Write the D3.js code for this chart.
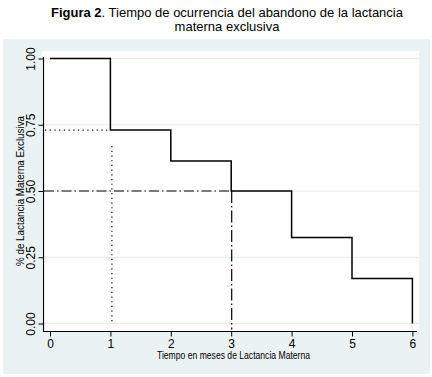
<!DOCTYPE html>
<html>
<head>
<meta charset="utf-8">
<script src="https://cdn.jsdelivr.net/npm/d3@7"></script>
<style>
  body { margin: 0; background: #fff; }
  text { font-family: Arial, "Liberation Sans", sans-serif; fill: #000; }
</style>
</head>
<body>
<svg id="chart" width="432" height="377"></svg>
<script>
// Kaplan-Meier style survival of exclusive breastfeeding
const months = [0, 1, 2, 3, 4, 5, 6];
const survival = [1, 0.73, 0.613, 0.5, 0.325, 0.17, 0];
const xTicks = [0, 1, 2, 3, 4, 5, 6];
const yTicks = [0, 0.25, 0.5, 0.75, 1];
const median = 3;      // month where 50% is reached
const firstDrop = 1;   // first month marker (dotted)
const firstLevel = 0.73;

const svg = d3.select("#chart");

// title
const title = svg.append("text")
  .attr("x", 227).attr("y", 17)
  .attr("text-anchor", "middle")
  .style("font-size", "13px");
title.append("tspan").style("font-weight", "bold").text("Figura 2");
title.append("tspan").text(". Tiempo de ocurrencia del abandono de la lactancia");
svg.append("text")
  .attr("x", 227).attr("y", 31)
  .attr("text-anchor", "middle")
  .style("font-size", "13px")
  .text("materna exclusiva");

// graph region + plot region
svg.append("rect")
  .attr("x", 3).attr("y", 39).attr("width", 427).attr("height", 335)
  .attr("fill", "#eaf2f3");
svg.append("rect")
  .attr("x", 42).attr("y", 51).attr("width", 377).attr("height", 280)
  .attr("fill", "#fff");

const x = d3.scaleLinear().domain([0, 6]).range([50, 412.4]);
const y = d3.scaleLinear().domain([0, 1]).range([323.5, 58.5]);

// grid
svg.append("g")
  .selectAll("line")
  .data(yTicks)
  .join("line")
  .attr("x1", 43).attr("x2", 419)
  .attr("y1", d => y(d)).attr("y2", d => y(d))
  .attr("stroke", "#e3ecee")
  .attr("stroke-width", 1);

// axes
const yAxis = svg.append("g")
  .attr("transform", "translate(43.5,0)")
  .call(d3.axisLeft(y).tickValues(yTicks).tickSize(5).tickSizeOuter(0)
    .tickFormat(d3.format(".2f")));
yAxis.select(".domain").attr("d", "M0,57V332").attr("stroke-width", 1.2);
yAxis.selectAll(".tick text")
  .attr("x", 0).attr("y", 0).attr("dy", 0)
  .attr("text-anchor", "middle")
  .attr("transform", "translate(-9,0) rotate(-90)")
  .style("font-size", "12px")
  .style("font-family", "Arial, 'Liberation Sans', sans-serif");

const xAxis = svg.append("g")
  .attr("transform", "translate(0,331.5)")
  .call(d3.axisBottom(x).tickValues(xTicks).tickSize(5).tickSizeOuter(0)
    .tickFormat(d3.format("d")));
xAxis.select(".domain").attr("d", "M43,0H417").attr("stroke-width", 1.2);
xAxis.selectAll(".tick text")
  .attr("y", 16).attr("dy", 0)
  .style("font-size", "12px")
  .style("font-family", "Arial, 'Liberation Sans', sans-serif");

// axis titles
svg.append("text")
  .attr("transform", `translate(24,${(y(0) + y(1)) / 2}) rotate(-90)`)
  .attr("text-anchor", "middle")
  .attr("textLength", 150).attr("lengthAdjust", "spacingAndGlyphs")
  .style("font-size", "10px")
  .text("% de Lactancia Materna Exclusiva");
svg.append("text")
  .attr("x", 233.5).attr("y", 359)
  .attr("text-anchor", "middle")
  .attr("textLength", 153).attr("lengthAdjust", "spacingAndGlyphs")
  .style("font-size", "10px")
  .text("Tiempo en meses de Lactancia Materna");

// reference lines
const ref = svg.append("g").attr("fill", "none").attr("stroke", "#000");
ref.append("line")
  .attr("x1", 45).attr("x2", x(firstDrop))
  .attr("y1", y(firstLevel)).attr("y2", y(firstLevel))
  .attr("stroke-width", 1.2).attr("stroke-dasharray", "1.2,3.5");
ref.append("line")
  .attr("x1", x(firstDrop) + 1.5).attr("x2", x(firstDrop) + 1.5)
  .attr("y1", y(firstLevel) + 16).attr("y2", y(0))
  .attr("stroke-width", 1.2).attr("stroke-dasharray", "1.2,3.5");
ref.append("line")
  .attr("x1", 44).attr("x2", x(median))
  .attr("y1", y(0.5)).attr("y2", y(0.5))
  .attr("stroke-width", 1.2).attr("stroke-dasharray", "10,3,1.5,3");
ref.append("line")
  .attr("x1", x(median) + 0.5).attr("x2", x(median) + 0.5)
  .attr("y1", y(0.5)).attr("y2", y(0) + 6)
  .attr("stroke-width", 1.2).attr("stroke-dasharray", "12,3,1.5,3");

// survival step line
const pts = months.map((m, i) => [m, survival[i]]);
svg.append("path")
  .datum(pts)
  .attr("fill", "none")
  .attr("stroke", "#000")
  .attr("stroke-width", 1.5)
  .attr("d", d3.line().x(d => x(d[0])).y(d => y(d[1])).curve(d3.curveStepAfter));
</script>
</body>
</html>
